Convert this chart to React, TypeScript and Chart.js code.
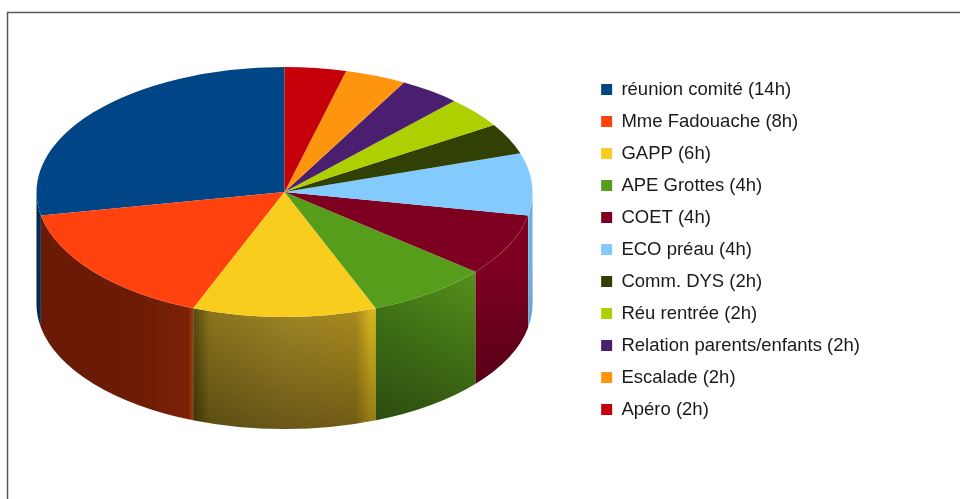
import React, { useEffect, useRef } from "react";
import { Chart, registerables } from "chart.js";

Chart.register(...registerables);

const categories = [
  "réunion comité (14h)",
  "Mme Fadouache (8h)",
  "GAPP (6h)",
  "APE Grottes (4h)",
  "COET (4h)",
  "ECO préau (4h)",
  "Comm. DYS (2h)",
  "Réu rentrée (2h)",
  "Relation parents/enfants (2h)",
  "Escalade (2h)",
  "Apéro (2h)",
];
const hours = [14, 8, 6, 4, 4, 4, 2, 2, 2, 2, 2];
const colors = [
  "#004586", "#ff420e", "#f9cd1e", "#579d1c", "#7e0021", "#83caff",
  "#314004", "#aecf00", "#4b1f6f", "#ff950e", "#c5000b",
];
// side-wall shading, left to right on screen
const wallStops: [number, string][][] = [
  [[0, "#00203f"], [1, "#003a6e"]],
  [[0, "#6a1a05"], [0.6, "#6c1b05"], [0.97, "#7a2208"], [1, "#a83a10"]],
  [[0, "#625410"], [0.09, "#9c8420"], [0.5, "#b4962a"], [0.89, "#c09c22"], [0.97, "#f6cc20"], [1, "#f8ce20"]],
  [[0, "#477f18"], [1, "#57941c"]],
  [[0, "#7e0021"], [1, "#7e0021"]],
  [[0, "#78b8e8"], [1, "#6ea8d8"]],
];
const wallShade = [0.15, 0.0, 0.42, 0.42, 0.42, 0.2];

const CENTER_X = 284.5;
const CENTER_Y = 192;
const SQUASH = 125 / 248;
const DEPTH = 112;

const pie3d = {
  id: "pie3d",
  beforeDraw(chart: any) {
    const { ctx } = chart;
    ctx.save();
    ctx.fillStyle = "#fff";
    ctx.fillRect(0, 0, chart.width, chart.height);
    ctx.strokeStyle = "#5a5a5a";
    ctx.lineWidth = 1.5;
    ctx.beginPath();
    ctx.moveTo(7.5, 499);
    ctx.lineTo(7.5, 12.5);
    ctx.lineTo(960, 12.5);
    ctx.stroke();
    ctx.restore();
  },
  beforeDatasetsDraw(chart: any) {
    const { ctx } = chart;
    const arcs = chart.getDatasetMeta(0).data;
    const cx = arcs[0].x;
    const cy = arcs[0].y;
    const place = () => {
      ctx.translate(CENTER_X, CENTER_Y);
      ctx.scale(-1, SQUASH);
      ctx.translate(-cx, -cy);
    };
    arcs.forEach((arc: any, i: number) => {
      const a = Math.max(arc.startAngle, 0);
      const b = Math.min(arc.endAngle, Math.PI);
      if (b <= a) return;
      const r = arc.outerRadius;
      ctx.save();
      place();
      ctx.beginPath();
      ctx.arc(cx, cy, r, a, b);
      ctx.arc(cx, cy + DEPTH / SQUASH, r, b, a, true);
      ctx.closePath();
      ctx.restore();
      const x1 = CENTER_X - r * Math.cos(a);
      const x2 = CENTER_X - r * Math.cos(b);
      const left = Math.min(x1, x2);
      const right = Math.max(x1, x2);
      const h = ctx.createLinearGradient(left, 0, right, 0);
      (wallStops[i] || [[0, colors[i]], [1, colors[i]]]).forEach(([o, c]) => h.addColorStop(o, c));
      ctx.fillStyle = h;
      ctx.fill();
      const v = ctx.createLinearGradient(0, CENTER_Y + 70, 0, CENTER_Y + 237);
      v.addColorStop(0, "rgba(0,0,0,0)");
      v.addColorStop(1, `rgba(0,0,0,${wallShade[i] ?? 0})`);
      ctx.fillStyle = v;
      ctx.fill();
    });
    ctx.save();
    place();
  },
  afterDatasetsDraw(chart: any) {
    chart.ctx.restore();
  },
};

export default function App() {
  const ref = useRef<HTMLCanvasElement>(null);
  useEffect(() => {
    const chart = new Chart(ref.current!, {
      type: "pie",
      data: {
        labels: categories,
        datasets: [
          {
            data: hours,
            backgroundColor: colors,
            borderWidth: 0,
            radius: 248,
            clip: false,
          } as any,
        ],
      },
      options: {
        responsive: false,
        animation: false,
        events: [],
        layout: { padding: { right: 90, left: 0, top: 0, bottom: 0 } },
        plugins: {
          tooltip: { enabled: false },
          legend: {
            position: "right",
            labels: {
              boxWidth: 11,
              boxHeight: 11,
              padding: 13.5,
              color: "#1a1a1a",
              font: { family: "'Liberation Sans'", size: 18.5 },
            },
          },
        },
      },
      plugins: [pie3d],
    });
    return () => chart.destroy();
  }, []);
  return (
    <canvas
      ref={ref}
      width={960}
      height={499}
      style={{ position: "fixed", left: 0, top: 0, display: "block" }}
    />
  );
}
